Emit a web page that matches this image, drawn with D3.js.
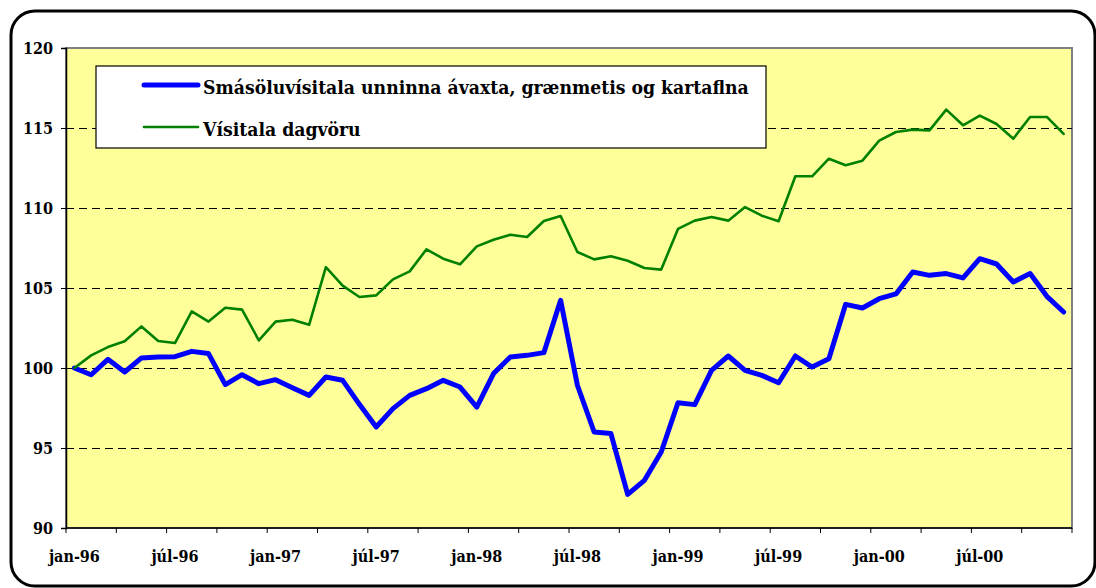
<!DOCTYPE html>
<html>
<head>
<meta charset="utf-8">
<script src="https://cdn.jsdelivr.net/npm/d3@7"></script>
<style>
    body { margin: 0; background: #fff; }
</style>
</head>
<body>
<div id="chart"></div>
<script>
// categories (months)
const months = [
    "jan-96", "feb-96", "mar-96", "apr-96", "maí-96", "jún-96", "júl-96", "ágú-96", "sep-96", "okt-96", "nóv-96", "des-96",
    "jan-97", "feb-97", "mar-97", "apr-97", "maí-97", "jún-97", "júl-97", "ágú-97", "sep-97", "okt-97", "nóv-97", "des-97",
    "jan-98", "feb-98", "mar-98", "apr-98", "maí-98", "jún-98", "júl-98", "ágú-98", "sep-98", "okt-98", "nóv-98", "des-98",
    "jan-99", "feb-99", "mar-99", "apr-99", "maí-99", "jún-99", "júl-99", "ágú-99", "sep-99", "okt-99", "nóv-99", "des-99",
    "jan-00", "feb-00", "mar-00", "apr-00", "maí-00", "jún-00", "júl-00", "ágú-00", "sep-00", "okt-00", "nóv-00", "des-00"
];

// Smásöluvísitala unninna ávaxta, grænmetis og kartaflna
const fruitVeg = [
    100.0, 99.58, 100.54, 99.75, 100.63, 100.69, 100.71, 101.04, 100.9, 98.96, 99.58, 99.02,
    99.27, 98.77, 98.29, 99.44, 99.23, 97.73, 96.31, 97.46, 98.29, 98.71, 99.23, 98.81,
    97.56, 99.65, 100.69, 100.79, 100.96, 104.23, 98.92, 96.0, 95.9, 92.1, 92.98, 94.75,
    97.83, 97.71, 99.85, 100.75, 99.85, 99.54, 99.08, 100.75, 100.06, 100.58, 103.98, 103.75,
    104.33, 104.63, 106.0, 105.79, 105.9, 105.63, 106.83, 106.5, 105.38, 105.9, 104.48, 103.5
];

// Vísitala dagvöru
const groceries = [
    100.0, 100.79, 101.31, 101.67, 102.6, 101.69, 101.56, 103.54, 102.9, 103.77, 103.65, 101.73,
    102.9, 103.02, 102.7, 106.3, 105.15, 104.44, 104.54, 105.54, 106.04, 107.42, 106.83, 106.48,
    107.6, 108.02, 108.33, 108.19, 109.19, 109.5, 107.25, 106.79, 106.98, 106.7, 106.25, 106.15,
    108.69, 109.21, 109.44, 109.21, 110.06, 109.52, 109.17, 111.98, 111.98, 113.08, 112.67, 112.96,
    114.21, 114.75, 114.9, 114.85, 116.15, 115.17, 115.77, 115.25, 114.33, 115.69, 115.69, 114.63
];

// tick labels
const yTicks = [90, 95, 100, 105, 110, 115, 120];
const xLabels = ["jan-96", "júl-96", "jan-97", "júl-97", "jan-98", "júl-98", "jan-99", "júl-99", "jan-00", "júl-00"];

const series = [
    { name: "Smásöluvísitala unninna ávaxta, grænmetis og kartaflna", values: fruitVeg, color: "#0000ff", width: 5 },
    { name: "Vísitala dagvöru", values: groceries, color: "#008000", width: 2.6 }
];

// set dimensions
const width = 1096,
    height = 588,
    plot = { left: 66, right: 1072, top: 48, bottom: 528 };

const svg = d3.select("#chart")
    .append("svg")
    .attr("width", width)
    .attr("height", height);

// outer frame
svg.append("rect")
    .attr("x", 11)
    .attr("y", 11)
    .attr("width", 1084)
    .attr("height", 575)
    .attr("rx", 24)
    .attr("fill", "#fff")
    .attr("stroke", "#000")
    .attr("stroke-width", 3);

// scales
const x = d3.scaleBand()
    .domain(months)
    .range([plot.left, plot.right]);

const y = d3.scaleLinear()
    .domain([90, 120])
    .range([plot.bottom, plot.top]);

const cx = d => x(d) + x.bandwidth() / 2;

// plot area
svg.append("rect")
    .attr("x", plot.left)
    .attr("y", plot.top)
    .attr("width", plot.right - plot.left)
    .attr("height", plot.bottom - plot.top)
    .attr("fill", "#ffff99")
    .attr("stroke", "#808080")
    .attr("stroke-width", 2);

// gridlines
svg.append("g")
    .selectAll("line")
    .data(yTicks.filter(t => t > 90 && t < 120))
    .enter()
    .append("line")
    .attr("x1", plot.left)
    .attr("x2", plot.right)
    .attr("y1", d => Math.round(y(d)) + 0.5)
    .attr("y2", d => Math.round(y(d)) + 0.5)
    .attr("stroke", "#000")
    .attr("stroke-width", 1)
    .attr("stroke-dasharray", "8,5");

// y axis
const yAxis = svg.append("g")
    .attr("transform", `translate(${plot.left},0)`)
    .call(d3.axisLeft(y).tickValues(yTicks).tickSize(5).tickPadding(8).tickFormat(d3.format("d")));
yAxis.attr("font-family", "DejaVu Serif Condensed")
    .attr("font-size", 16).attr("font-weight", "bold");
yAxis.select(".domain").attr("stroke", "#000").attr("stroke-width", 1.5);

// x axis: ticks every 3 months at category boundaries
const boundaries = months.filter((m, i) => i % 3 === 0).map(m => x(m)).concat([plot.right]);
svg.append("g")
    .selectAll("line")
    .data(boundaries)
    .enter()
    .append("line")
    .attr("x1", d => d)
    .attr("x2", d => d)
    .attr("y1", plot.bottom)
    .attr("y2", plot.bottom + 5)
    .attr("stroke", "#000");

svg.append("line")
    .attr("x1", plot.left)
    .attr("x2", plot.right)
    .attr("y1", plot.bottom)
    .attr("y2", plot.bottom)
    .attr("stroke", "#000")
    .attr("stroke-width", 1.5);

svg.append("g")
    .attr("font-family", "DejaVu Serif Condensed")
    .attr("font-size", 16)
    .attr("font-weight", "bold")
    .selectAll("text")
    .data(xLabels)
    .enter()
    .append("text")
    .attr("x", d => cx(d))
    .attr("y", 562)
    .attr("text-anchor", "middle")
    .text(d => d);

// lines
const line = d3.line()
    .x((d, i) => cx(months[i]))
    .y(d => y(d));

svg.append("g")
    .selectAll("path")
    .data(series)
    .enter()
    .append("path")
    .attr("d", d => line(d.values))
    .attr("fill", "none")
    .attr("stroke", d => d.color)
    .attr("stroke-width", d => d.width)
    .attr("stroke-linejoin", "round")
    .attr("stroke-linecap", "round");

// legend
const legend = svg.append("g");
legend.append("rect")
    .attr("x", 96)
    .attr("y", 66)
    .attr("width", 670)
    .attr("height", 82)
    .attr("fill", "#fff")
    .attr("stroke", "#000")
    .attr("stroke-width", 1.2);

const item = legend.selectAll(".item")
    .data(series)
    .enter()
    .append("g")
    .attr("transform", (d, i) => `translate(0,${85 + i * 42})`);

item.append("line")
    .attr("x1", 144)
    .attr("x2", 198)
    .attr("stroke", d => d.color)
    .attr("stroke-width", d => d.width)
    .attr("stroke-linecap", "round");

item.append("text")
    .attr("x", 203)
    .attr("y", 9)
    .attr("font-family", "DejaVu Serif Condensed")
    .attr("font-weight", "bold")
    .attr("font-size", 19.2)
    .text(d => d.name);
</script>
</body>
</html>
